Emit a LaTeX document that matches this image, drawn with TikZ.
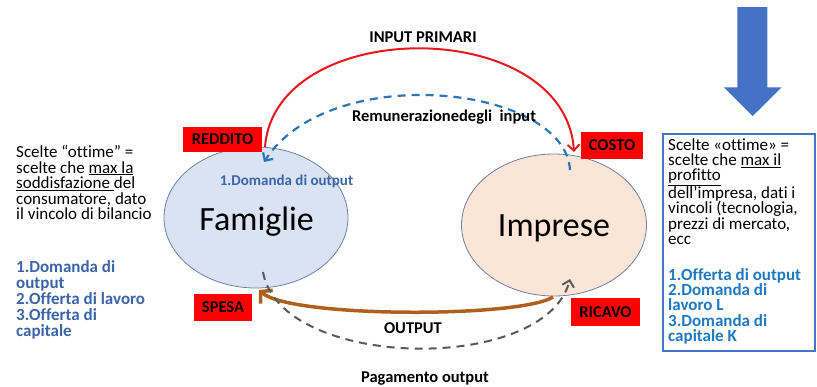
\documentclass[tikz,border=0pt]{standalone}
\usepackage{fontspec}
\setmainfont{Carlito}[Ligatures={NoCommon}]
\usetikzlibrary{arrows.meta,shapes.geometric}
\definecolor{famfill}{HTML}{DAE3F3}
\definecolor{impfill}{HTML}{FBE5D6}
\definecolor{ellline}{HTML}{6F7FA0}
\definecolor{redarc}{HTML}{E8191E}
\definecolor{bluedash}{HTML}{2E75B6}
\definecolor{greydash}{HTML}{595959}
\definecolor{brownarc}{HTML}{B0601E}
\definecolor{listblue}{HTML}{3B64A8}
\definecolor{boxblue}{HTML}{4472C4}
\definecolor{listblue2}{HTML}{1F78C0}
\begin{document}
\begin{tikzpicture}[x=1pt,y=-1pt,
  redlabel/.style={fill=red, text=black, inner sep=0pt, font=\fontsize{16.5}{16.5}\selectfont\bfseries},
  sector/.style={draw=ellline, line width=0.8pt, ellipse, inner sep=0pt},
  bigname/.style={font=\fontsize{34}{34}\selectfont, anchor=base, inner sep=0pt},
  flowlabel/.style={font=\fontsize{16.5}{16.5}\selectfont\bfseries, anchor=base, inner sep=0pt},
  para/.style={align=left, anchor=north west, inner sep=0pt},
  barb/.style={-{Straight Barb[length=6pt,width=12pt]}},
]
\useasboundingbox (0,0) rectangle (817,386);

% sectors
\node[sector, fill=famfill, minimum width=184pt, minimum height=141pt] (fam) at (256,217.5) {};
\node[sector, fill=impfill, minimum width=185pt, minimum height=142pt] (imp) at (554,225) {};
\node[bigname] (famtext) at (256.6,230) {Famiglie};
\node[bigname] (imptext) at (554,236.7) {Imprese};
\node[anchor=base, inner sep=0pt, text=listblue, font=\fontsize{15}{15}\selectfont\bfseries] (domout) at (286.5,185) {1.Domanda di output};

% red labels
\node[redlabel, minimum width=79pt, minimum height=25pt] (reddito) at (222.5,139.5) {REDDITO};
\node[redlabel, minimum width=62pt, minimum height=27pt] (costo) at (612,145.5) {COSTO};
\node[redlabel, minimum width=58pt, minimum height=27pt] (spesa) at (223,307.5) {SPESA};
\node[redlabel, minimum width=69pt, minimum height=28pt] (ricavo) at (605.5,312) {RICAVO};

% connector end points
\coordinate (redA) at (265,147);
\coordinate (redB) at (574,152);
\coordinate (blueA) at (570,170);
\coordinate (blueB) at (264,162);
\coordinate (brownA) at (553,297);
\coordinate (brownB) at (259,290);
\coordinate (greyA) at (263,272);
\coordinate (greyB) at (570,279);

% flows
\draw[redarc, line width=2pt, barb] (redA) .. controls (275,15) and (565,15) .. (redB);
\draw[bluedash, line width=2.2pt, dash pattern=on 8pt off 6pt, barb] (blueA) .. controls (565,85) and (330,60) .. (blueB);
\draw[brownarc, line width=3.5pt, -{Straight Barb[length=8pt,width=18pt]}] (brownA) .. controls (520,318) and (290,318) .. (brownB);
\draw[greydash, line width=2pt, dash pattern=on 8pt off 6pt, barb] (greyA) .. controls (280,370) and (545,375) .. (greyB);

\node[flowlabel] (inprim) at (423,42.7) {INPUT PRIMARI};
\node[flowlabel] (remun) at (444,121.7) {Remunerazionedegli\ \ input};
\node[flowlabel] (outlab) at (413,333.3) {OUTPUT};
\node[flowlabel] (pagout) at (425,382.7) {Pagamento output};

% left texts
\node[para, font=\fontsize{17}{15.6}\selectfont] (leftpara) at (16,145) {Scelte “ottime” =\\scelte che \underline{max la}\\\underline{soddisfazione }del\\consumatore, dato\\il vincolo di bilancio};
\node[para, text=listblue, font=\fontsize{17}{16.2}\selectfont\bfseries] (leftlist) at (16,260) {1.Domanda di\\output\\2.Offerta di lavoro\\3.Offerta di\\capitale};

% big arrow
\fill[boxblue] (737.3,7) -- (767.3,7) -- (767.3,87.3) -- (781.7,87.3) -- (752.7,116) -- (724,87.3) -- (737.3,87.3) -- cycle;

% right box
\draw[boxblue, line width=2.5pt] (663,134) rectangle (815,351);
\node[para, font=\fontsize{17}{15.4}\selectfont] (rightpara) at (668,138) {Scelte «ottime» =\\scelte che \underline{max il}\\\underline{profitto}\\dell’impresa, dati i\\vincoli (tecnologia,\\prezzi di mercato,\\ecc};
\node[para, text=listblue2, font=\fontsize{17}{15.4}\selectfont\bfseries] (rightlist) at (668,268) {1.Offerta di output\\2.Domanda di\\lavoro L\\3.Domanda di\\capitale K};
\end{tikzpicture}
\end{document}
